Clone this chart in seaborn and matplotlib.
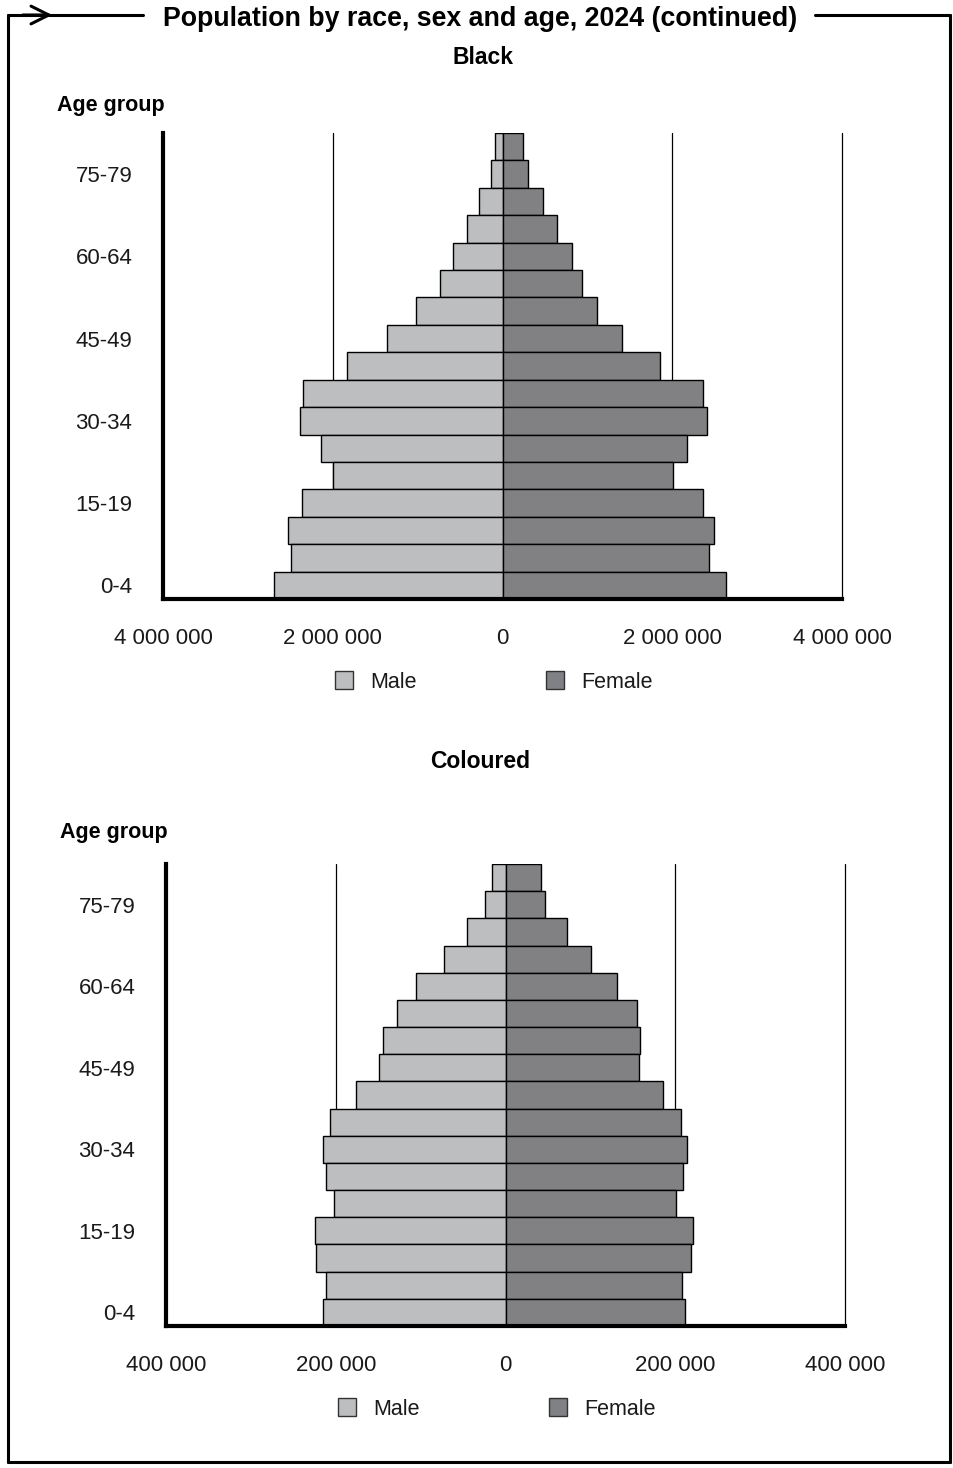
import matplotlib
matplotlib.use("Agg")
import matplotlib.pyplot as plt
import seaborn as sns
import pandas as pd
from matplotlib.lines import Line2D
from matplotlib.patches import Patch, FancyArrowPatch

# age groups, bottom to top
ages = ["0-4", "5-9", "10-14", "15-19", "20-24", "25-29", "30-34", "35-39",
        "40-44", "45-49", "50-54", "55-59", "60-64", "65-69", "70-74",
        "75-79", "80+"]
shown_ages = ["0-4", "15-19", "30-34", "45-49", "60-64", "75-79"]

# values in thousands
black_male = [2694, 2497, 2532, 2367, 2002, 2144, 2391, 2356, 1837, 1355,
              1019, 733, 580, 424, 282, 141, 86]
black_female = [2632, 2438, 2497, 2367, 2014, 2179, 2415, 2367, 1859, 1408,
                1111, 941, 816, 647, 475, 306, 240]
col_male = [215, 211, 223, 224, 202, 211, 215, 207, 176, 149,
            144, 128, 106, 72, 45, 24, 16]
col_female = [211, 208, 219, 221, 201, 209, 214, 207, 185, 157,
              158, 155, 131, 101, 73, 46, 42]

black_ticks = [-4000000, -2000000, 0, 2000000, 4000000]
col_ticks = [-400000, -200000, 0, 200000, 400000]

MALE_C = "#bdbec0"
FEMALE_C = "#808184"
TXT = "#1a1a1a"

sns.set_style("white")
plt.rcParams["font.family"] = ["Liberation Sans", "DejaVu Sans"]
plt.rcParams["text.color"] = TXT


def make_df(male, female):
    rows = []
    for a, m, f in zip(ages, male, female):
        rows.append({"age": a, "sex": "Male", "value": -m * 1000})
        rows.append({"age": a, "sex": "Female", "value": f * 1000})
    return pd.DataFrame(rows)


def fmt(v):
    return f"{abs(v):,}".replace(",", " ")


def pyramid(ax, df, ticks):
    sns.barplot(data=df, y="age", x="value", hue="sex", order=ages[::-1],
                hue_order=["Male", "Female"], palette=[MALE_C, FEMALE_C],
                dodge=False, orient="h", width=1.0, edgecolor="black",
                linewidth=1.0, legend=False, ax=ax)
    ax.set_xlim(ticks[0], ticks[-1])
    ax.set_xticks(ticks)
    ax.set_xticklabels([fmt(t) for t in ticks], fontsize=16, color=TXT)
    order = ages[::-1]
    ax.set_yticks([order.index(a) for a in shown_ages])
    ax.set_yticklabels(shown_ages, fontsize=16, color=TXT)
    ax.set_xlabel("")
    ax.set_ylabel("")
    ax.grid(axis="x", color="black", linewidth=0.9)
    for gl in ax.get_xgridlines():
        gl.set_clip_on(False)
    ax.set_axisbelow(True)
    for s in ["top", "right"]:
        ax.spines[s].set_visible(False)
    for s in ["left", "bottom"]:
        ax.spines[s].set_linewidth(3)
        ax.spines[s].set_color("black")
    ax.tick_params(axis="x", length=4, width=0.8, color="black", pad=17)
    ax.tick_params(axis="y", length=0, pad=22)


fig = plt.figure(figsize=(9.54, 14.68), dpi=100)
W, H = 954, 1468


def fx(px):
    return px / W


def fy(py):
    return 1 - py / H


ax1 = fig.add_axes([fx(163), fy(599), 679 / W, 466 / H])
pyramid(ax1, make_df(black_male, black_female), black_ticks)
ax2 = fig.add_axes([fx(166), fy(1326), 679 / W, 462 / H])
pyramid(ax2, make_df(col_male, col_female), col_ticks)

# titles
fig.text(fx(480), fy(19), "Population by race, sex and age, 2024 (continued)",
         ha="center", va="center", fontsize=19.3, fontweight="bold", color="black")
fig.text(fx(483), fy(58), "Black", ha="center", va="center",
         fontsize=16.5, fontweight="bold", color="black")
fig.text(fx(57), fy(105), "Age group", ha="left", va="center",
         fontsize=15.5, fontweight="bold", color="black")
fig.text(fx(480), fy(762), "Coloured", ha="center", va="center",
         fontsize=16.5, fontweight="bold", color="black")
fig.text(fx(60), fy(832), "Age group", ha="left", va="center",
         fontsize=15.5, fontweight="bold", color="black")

# legends
handles = [Patch(facecolor=MALE_C, edgecolor="#333333", linewidth=1, label="Male"),
           Patch(facecolor=FEMALE_C, edgecolor="#333333", linewidth=1, label="Female")]
for yy, xx in [(682, 494), (1409, 497)]:
    fig.legend(handles=handles, loc="center", bbox_to_anchor=(fx(xx), fy(yy)),
               ncol=2, frameon=False, fontsize=15.5, handlelength=0.85,
               handleheight=0.85, handletextpad=0.8, columnspacing=6.0,
               labelcolor=TXT)

# frame with arrow
lw = 2.2
fig.add_artist(Line2D([fx(8), fx(8)], [fy(15), fy(1462)], color="black", lw=lw))
fig.add_artist(Line2D([fx(8), fx(950)], [fy(1462), fy(1462)], color="black", lw=lw))
fig.add_artist(Line2D([fx(950), fx(950)], [fy(15), fy(1462)], color="black", lw=lw))
fig.add_artist(Line2D([fx(8), fx(143)], [fy(15), fy(15)], color="black", lw=lw))
fig.add_artist(Line2D([fx(815), fx(950)], [fy(15), fy(15)], color="black", lw=lw))
fig.add_artist(FancyArrowPatch(
    (fx(20), fy(15)), (fx(55), fy(15)), transform=fig.transFigure,
    arrowstyle="->,head_length=0.8,head_width=0.4", color="black",
    lw=lw, mutation_scale=16))

fig.savefig("out.png", dpi=100)
